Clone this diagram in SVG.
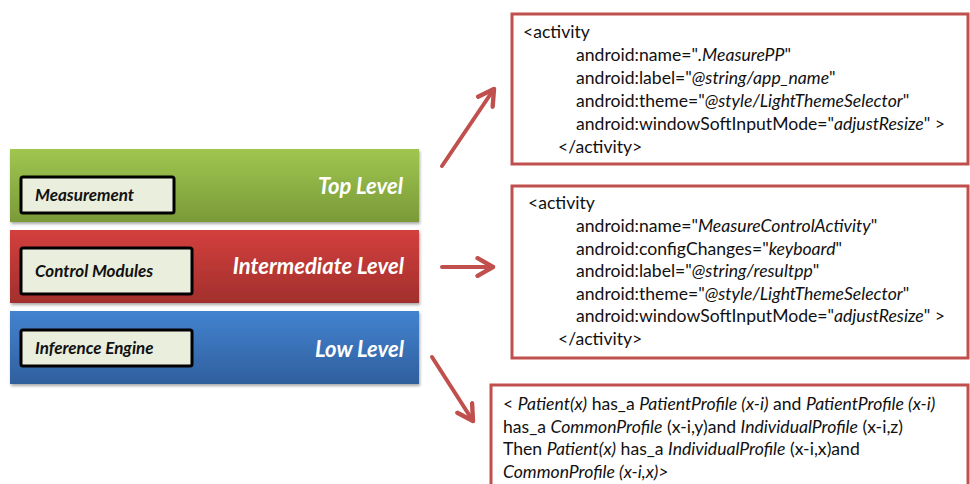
<svg xmlns="http://www.w3.org/2000/svg" width="970" height="484" viewBox="0 0 970 484">
<defs>
<linearGradient id="gG" x1="0" y1="0" x2="0" y2="1"><stop offset="0" stop-color="#a0c650"/><stop offset="1" stop-color="#7a9a38"/></linearGradient>
<linearGradient id="gR" x1="0" y1="0" x2="0" y2="1"><stop offset="0" stop-color="#d3403d"/><stop offset="1" stop-color="#a22f2d"/></linearGradient>
<linearGradient id="gB" x1="0" y1="0" x2="0" y2="1"><stop offset="0" stop-color="#4383d0"/><stop offset="1" stop-color="#2f5f9d"/></linearGradient>
<filter id="sh" x="-5%" y="-20%" width="110%" height="150%"><feGaussianBlur in="SourceAlpha" stdDeviation="1.5"/><feOffset dx="1" dy="2" result="b"/><feComponentTransfer><feFuncA type="linear" slope="0.35"/></feComponentTransfer><feMerge><feMergeNode/><feMergeNode in="SourceGraphic"/></feMerge></filter>
<marker id="ah" viewBox="0 0 10 10" refX="8" refY="5" markerWidth="5.5" markerHeight="5.5" orient="auto" markerUnits="strokeWidth"><path d="M1,1 L8,5 L1,9" fill="none" stroke="#c0504d" stroke-width="2" stroke-linecap="round" stroke-linejoin="round"/></marker>
</defs>
<style>
.bar{filter:url(#sh)}
.ib{fill:#eaeedc;stroke:#000;stroke-width:3}
.ibt{font-family:Lato,"Open Sans",sans-serif;font-weight:bold;font-style:italic;font-size:17px;fill:#111}
.lvl{font-family:Lato,"Open Sans",sans-serif;font-weight:bold;font-style:italic;font-size:22px;fill:#fff;text-anchor:end}
.cb{fill:#fff;stroke:#c0504d;stroke-width:3}
.ct{font-family:Lato,"Open Sans",sans-serif;font-size:17.6px;fill:#111}
.it{font-style:italic}
.con{fill:none;stroke:#c0504d;stroke-width:4;stroke-linecap:round;marker-end:url(#ah)}
</style>
<g id="top-level">
<rect class="bar" x="10" y="149" width="409" height="73" fill="url(#gG)"/>
<rect class="ib" x="21" y="177" width="153" height="36" rx="2"/>
<text class="ibt" x="35" y="201">Measurement</text>
<text class="lvl" x="403" y="194">Top Level</text>
</g>
<g id="intermediate-level">
<rect class="bar" x="10" y="230" width="409" height="73" fill="url(#gR)"/>
<rect class="ib" x="21" y="248" width="171" height="46" rx="2"/>
<text class="ibt" x="35" y="277">Control Modules</text>
<text class="lvl" x="404" y="274">Intermediate Level</text>
</g>
<g id="low-level">
<rect class="bar" x="10" y="311" width="409" height="73" fill="url(#gB)"/>
<rect class="ib" x="21" y="330" width="171" height="36" rx="2"/>
<text class="ibt" x="35" y="354">Inference Engine</text>
<text class="lvl" x="404" y="357">Low Level</text>
</g>
<g id="activity-measure">
<rect class="cb" x="512" y="14" width="456" height="150"/>
<text class="ct" x="523" y="38">&lt;activity</text>
<text class="ct" x="576" y="61">android:name="<tspan class="it">.MeasurePP</tspan>"</text>
<text class="ct" x="576" y="84">android:label="<tspan class="it">@string/app_name</tspan>"</text>
<text class="ct" x="576" y="107">android:theme="<tspan class="it">@style/LightThemeSelector</tspan>"</text>
<text class="ct" x="576" y="130">android:windowSoftInputMode="<tspan class="it">adjustResize</tspan>"  &gt;</text>
<text class="ct" x="558" y="153">&lt;/activity&gt;</text>
</g>
<g id="activity-control">
<rect class="cb" x="512" y="186" width="456" height="172"/>
<text class="ct" x="528" y="209">&lt;activity</text>
<text class="ct" x="576" y="232">android:name="<tspan class="it">MeasureControlActivity</tspan>"</text>
<text class="ct" x="576" y="255">android:configChanges="<tspan class="it">keyboard</tspan>"</text>
<text class="ct" x="576" y="277">android:label="<tspan class="it">@string/resultpp</tspan>"</text>
<text class="ct" x="576" y="300">android:theme="<tspan class="it">@style/LightThemeSelector</tspan>"</text>
<text class="ct" x="576" y="322">android:windowSoftInputMode="<tspan class="it">adjustResize</tspan>"  &gt;</text>
<text class="ct" x="558" y="345">&lt;/activity&gt;</text>
</g>
<g id="inference-rule">
<rect class="cb" x="491" y="385" width="477" height="110"/>
<text class="ct" x="503" y="410">&lt; <tspan class="it">Patient(x)</tspan> has_a <tspan class="it">PatientProfile (x-i)</tspan> and <tspan class="it">PatientProfile (x-i)</tspan></text>
<text class="ct" x="503" y="433">has_a <tspan class="it">CommonProfile</tspan> (x-i,y)and <tspan class="it">IndividualProfile</tspan> (x-i,z)</text>
<text class="ct" x="503" y="455">Then <tspan class="it">Patient(x)</tspan> has_a <tspan class="it">IndividualProfile</tspan> (x-i,x)and</text>
<text class="ct" x="503" y="478"><tspan class="it">CommonProfile (x-i,x)&gt;</tspan></text>
</g>
<g id="connectors">
<path class="con" d="M442,166 L494,89"/>
<path class="con" d="M442,267 L493,267"/>
<path class="con" d="M432,357 L473,421"/>
</g>
</svg>
